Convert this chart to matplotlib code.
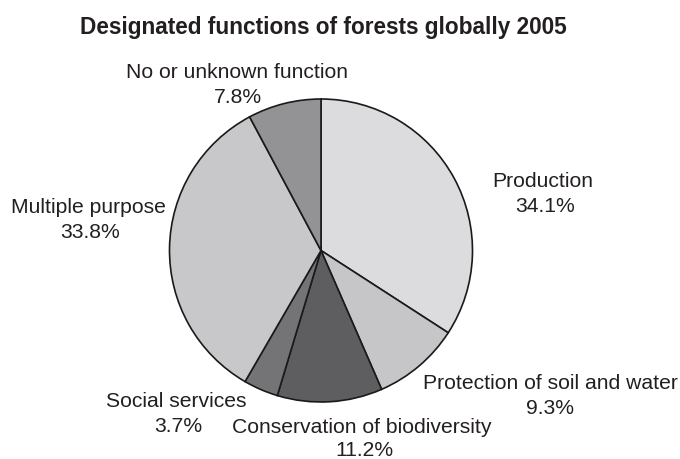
import matplotlib
matplotlib.use("Agg")
import matplotlib.pyplot as plt

plt.rcParams['font.family'] = ['Liberation Sans', 'DejaVu Sans']

categories = ["Production", "Protection of soil and water", "Conservation of biodiversity",
              "Social services", "Multiple purpose", "No or unknown function"]
shares = [34.1, 9.3, 11.2, 3.7, 33.8, 7.8]
colors = ["#dcdcde", "#c6c6c8", "#5e5e60", "#747476", "#c8c8ca", "#939395"]

# label baselines (name line, value line) in figure pixels, origin top-left
name_pos = [(543, 187), (550, 389), (362, 433), (176, 407), (88, 213), (237, 78)]
value_pos = [(545, 212), (550, 414), (364, 456), (178, 432), (90, 238), (238, 103)]

W, H = 680, 460
fig = plt.figure(figsize=(W / 100, H / 100), dpi=100)
ax = fig.add_axes([0, 0, 1, 1])

ax.pie(shares, colors=colors, startangle=90, counterclock=False,
       center=(321, H - 251.5), radius=151.5, frame=True,
       wedgeprops=dict(edgecolor="#1a1a1a", linewidth=1.2))
ax.set_xlim(0, W)
ax.set_ylim(0, H)
ax.set_aspect('equal')
ax.axis('off')

txt_color = "#231f20"
for cat, val, (nx, ny), (vx, vy) in zip(categories, shares, name_pos, value_pos):
    ax.text(nx, H - ny, cat, ha='center', va='baseline', fontsize=15.2, color=txt_color)
    ax.text(vx, H - vy, f"{val:.1f}%", ha='center', va='baseline', fontsize=15.2, color=txt_color)

ax.text(323, H - 34, "Designated functions of forests globally 2005", ha='center', va='baseline',
        fontsize=16.3, fontweight='bold', color=txt_color)

fig.savefig("out.png", dpi=100)
